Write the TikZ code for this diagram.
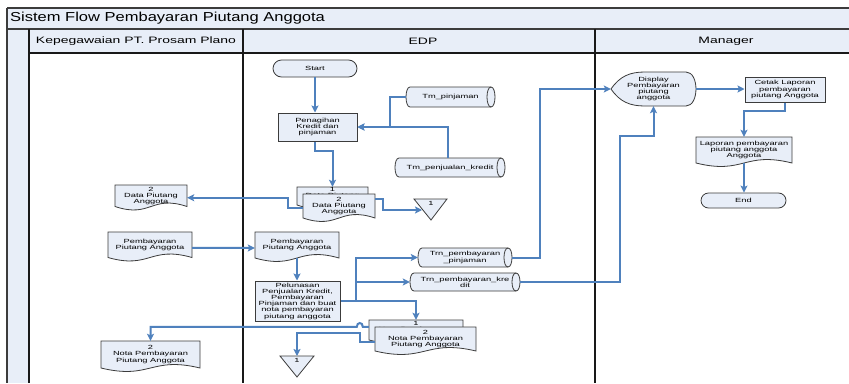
\documentclass[tikz,border=0pt]{standalone}
\usepackage{fontspec}
\setmainfont{Liberation Sans}
\newfontfamily\shapefont[FakeStretch=1.55]{Liberation Sans}
\newfontfamily\headfont[FakeStretch=1.5]{Liberation Sans}
\newfontfamily\titlefont[FakeStretch=1.27]{Liberation Sans}
\usetikzlibrary{arrows.meta,shapes.misc,calc}

\definecolor{shapefill}{RGB}{232,238,248}
\definecolor{flowblue}{RGB}{79,129,189}
\definecolor{edgegray}{RGB}{60,60,60}

\newcommand\shapetext{\shapefont\fontsize{6}{6.2}\selectfont}

\tikzset{
  shapeline/.style={draw=edgegray, line width=0.8pt, fill=shapefill},
  procbox/.style={draw=edgegray, line width=1pt, fill=shapefill, rectangle,
    inner sep=0pt, align=center, font=\shapetext},
  shapelabel/.style={inner sep=0pt, align=center, font=\shapetext},
  terminal/.style={shapeline, rounded rectangle, inner sep=0pt, font=\shapetext},
  conn/.style={draw=flowblue, line width=2pt,
    -{Stealth[length=7pt,width=7pt,inset=1.5pt]}},
  lanerule/.style={draw=black!90, line width=1.5pt},
  framerule/.style={draw=edgegray, line width=1.3pt},
}

% document symbol: name, x1, top, x2, y of the lower corners, text
\newcommand\docshape[6]{%
  \pgfmathsetmacro\dw{#4-#2}%
  \pgfmathsetmacro\dh{#5-#3}%
  \path[shapeline] ({#2},{#3}) -- ({#4},{#3}) -- ({#4},{#5})
    .. controls ({#4-0.5*\dw},{#5-12}) and ({#2+0.5*\dw},{#5+12}) .. ({#2},{#5}) -- cycle;
  \node[shapelabel, minimum width=\dw pt, minimum height=\dh pt] (#1)
    at ({(#2+#4)/2},{(#3+#5)/2}) {#6};
}

% stored data (horizontal cylinder): name, x1, y1, x2, y2, text
\newcommand\cylshape[6]{%
  \pgfmathsetmacro\cw{#4-#2}%
  \pgfmathsetmacro\ch{#5-#3}%
  \path[shapeline] ({#2+4},{#3}) -- ({#4-4},{#3})
    .. controls ({#4+1.33},{#3}) and ({#4+1.33},{#5}) .. ({#4-4},{#5})
    -- ({#2+4},{#5})
    .. controls ({#2-1.33},{#5}) and ({#2-1.33},{#3}) .. cycle;
  \draw[draw=edgegray, line width=0.8pt] ({#4-4},{#3})
    .. controls ({#4-9.33},{#3}) and ({#4-9.33},{#5}) .. ({#4-4},{#5});
  \node[shapelabel, minimum width=\cw pt, minimum height=\ch pt] (#1)
    at ({(#2+#4)/2},{(#3+#5)/2}) {#6};
}

\begin{document}
\begin{tikzpicture}[x=1pt, y=-1pt]
  \useasboundingbox (0,0) rectangle (849,383);
  \fill[white] (0,0) rectangle (849,383);

  % swimlane frame
  \fill[shapefill] (7,8) rectangle (849,29);
  \fill[shapefill] (7,29) rectangle (29,383);
  \fill[shapefill] (29,29) rectangle (849,53);
  \draw[draw=edgegray, line width=1.8pt] (7,8) -- (849,8);
  \draw[draw=edgegray, line width=1.8pt] (7,8) -- (7,383);
  \draw[framerule] (7,29) -- (849,29);
  \draw[lanerule] (29,29) -- (29,383);
  \draw[lanerule] (29,53) -- (849,53);
  \draw[lanerule] (243,29) -- (243,383);
  \draw[lanerule] (595,29) -- (595,383);

  \node[anchor=west, inner sep=0pt, font=\titlefont\fontsize{13}{15}\selectfont]
    (title) at (10,18.5) {Sistem Flow Pembayaran Piutang Anggota};
  \node[inner sep=0pt, font=\headfont\fontsize{9.3}{11}\selectfont]
    (laneA) at (136,41) {Kepegawaian PT. Prosam Plano};
  \node[inner sep=0pt, font=\headfont\fontsize{9.3}{11}\selectfont]
    (laneB) at (423,41) {EDP};
  \node[inner sep=0pt, font=\headfont\fontsize{9.3}{11}\selectfont]
    (laneC) at (726,41) {Manager};

  % EDP lane
  \node[terminal, minimum width=84pt, minimum height=17pt] (start) at (315,68.5) {Start};
  \node[procbox, minimum width=79pt, minimum height=28pt] (pen) at (317.5,127)
    {Penagihan\\Kredit dan\\pinjaman};
  \cylshape{tmp}{406}{87}{495}{107}{Tm\_pinjaman}
  \cylshape{tmk}{395}{158}{505}{177}{Tm\_penjualan\_kredit}

  \docshape{dp1}{297}{187}{368}{205}{1\\Data Piutang\\Anggota}
  \docshape{dp2}{303}{194}{375}{218}{2\\Data Piutang\\Anggota}

  % off-page connector 1 (upper)
  \path[shapeline] (414,199) -- (447,199) -- (431,220) -- cycle;
  \node[shapelabel] (off1) at (431,203.5) {1};
  \coordinate (off1in) at (422,210);

  \docshape{pbe}{255}{232}{339}{258}{Pembayaran\\Piutang Anggota}
  \node[procbox, minimum width=85pt, minimum height=40pt] (pel) at (297.5,301)
    {Pelunasan\\Penjualan Kredit,\\Pembayaran\\Pinjaman dan buat\\nota pembayaran\\piutang anggota};
  \cylshape{tpp}{418}{248}{512}{267}{Trn\_pembayaran\\\_pinjaman}
  \cylshape{tpk}{410}{273}{520}{291}{Trn\_pembayaran\_kre\\dit}

  \docshape{nb1}{369}{320}{463}{340}{1\\Nota Pembayaran\\Piutang Anggota}
  \docshape{nb2}{375}{327}{476}{351}{2\\Nota Pembayaran\\Piutang Anggota}

  % off-page connector 1 (lower)
  \path[shapeline] (280,356) -- (314,356) -- (297,377) -- cycle;
  \node[shapelabel] (off2) at (297,360) {1};
  \coordinate (off2top) at (297,356);

  % Kepegawaian lane
  \docshape{dpa}{115}{185}{187}{206.5}{2\\Data Piutang\\Anggota}
  \docshape{pbl}{108}{232}{192}{257.5}{Pembayaran\\Piutang Anggota}
  \docshape{ndl}{101}{341}{200}{368}{2\\Nota Pembayaran\\Piutang Anggota}

  % Manager lane
  \path[shapeline] (611,89) .. controls (620,76) and (630,72) .. (645,72) -- (686,72)
    .. controls (699.3,72) and (699.3,106) .. (686,106) -- (645,106)
    .. controls (630,106) and (620,102) .. cycle;
  \node[shapelabel, minimum width=85pt, minimum height=34pt] (dis) at (653.5,89)
    {Display\\Pembayaran\\piutang\\anggota};
  \node[procbox, minimum width=80pt, minimum height=25pt] (cet) at (785,89.5)
    {Cetak Laporan\\pembayaran\\piutang Anggota};
  \docshape{lap}{696}{137}{792}{163}{Laporan pembayaran\\piutang anggota\\Anggota}
  \node[terminal, minimum width=85pt, minimum height=15pt] (end) at (743.5,200.5) {End};

  % flows
  \draw[conn] (start.south) -- (start.south |- pen.north);
  \draw[conn] (tmp.west) -- ++(-16,0) |- (pen.east);
  \draw[conn] ([xshift=-2pt]tmk.north) |- (pen.east);
  \draw[conn] (pen.south -| start.south) -- ++(0,9) -| (dp1.north);
  \draw[conn] ($(dp2.north east)+(0,5)$) -- ++(8,0) |- (off1in);
  \draw[conn] ($(dp2.south west)+(0,-10)$) -- ++(-15,0) |- ($(dpa.east)+(0,2)$);
  \draw[conn] ($(pbl.east)+(0,3)$) -- ($(pbe.west)+(0,3)$);
  \draw[conn] (pbe.south) -- (pbe.south |- pel.north);
  \coordinate (split) at ($(pel.east)+(15,0)$);
  \draw[conn] (pel.east) -- (split) |- (tpp.west);
  \draw[conn] (split |- tpk.west) -- (tpk.west);
  \draw[conn] (pel.east) -| (nb1.north);
  \draw[conn] (tpp.east) -- ++(28,0) |- (dis.west);
  \draw[conn] (tpk.east) -| ($(dis.south)+(-34,30)$) -| (dis.south);
  \draw[conn] (dis.east) -- (dis.east -| cet.west);
  \draw[conn] (cet.south) -- ++(0,8) -| (lap.north);
  \draw[conn] (lap.south) -- (lap.south |- end.north);
  \draw[conn] ($(nb1.north west)+(0,7)$) -- ++(-6,0)
    .. controls +(0,-5) and +(0,-5) .. ++(-6,0) -| (ndl.north);
  \draw[conn] ($(nb2.south west)+(0,-9)$) -- ++(-15,0) -- ++(0,-9) -| (off2top);
\end{tikzpicture}
\end{document}
